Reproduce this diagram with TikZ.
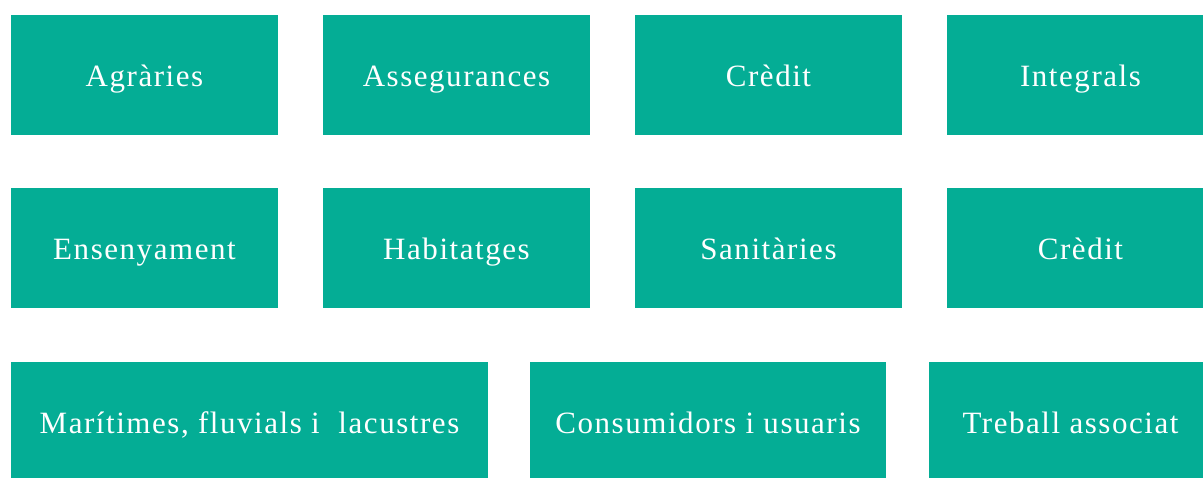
\documentclass[tikz,border=0pt]{standalone}
\usepackage{fontspec}
\setmainfont{Liberation Serif}[LetterSpace=5]
\usepackage{xcolor}
\definecolor{verdcoop}{RGB}{4,173,149}

\begin{document}
\begin{tikzpicture}[x=1pt,y=-1pt,
  every node/.style = {shape=rectangle, fill=verdcoop, text=white,
    inner sep=0pt, outer sep=0pt, anchor=north west,
    minimum height=120pt, text height=25pt, text depth=3pt,
    align=center, font=\fontsize{31}{34}\selectfont},
  caixa/.style = {minimum width=267pt},
  ]
  \useasboundingbox (0,0) rectangle (1203,477);
  \clip (0,0) rectangle (1203,477);
  % primera fila
  \node[caixa] (agraries) at (11,15) {Agràries};
  \node[caixa] (assegurances) at (323,15) {Assegurances};
  \node[caixa] (credit) at (635,15) {Crèdit};
  \node[caixa] (integrals) at (947,15) {Integrals};
  % segona fila
  \node[caixa] (ensenyament) at (11,188) {Ensenyament};
  \node[caixa] (habitatges) at (323,188) {Habitatges};
  \node[caixa] (sanitaries) at (635,188) {Sanitàries};
  \node[caixa] (creditb) at (947,188) {Crèdit};
  % tercera fila
  \node[minimum width=477pt] (maritimes) at (11,362) {Marítimes, fluvials i~ lacustres};
  \node[minimum width=356pt] (consumidors) at (530,362) {Consumidors i usuaris};
  \node[minimum width=283pt] (treball) at (929,362) {Treball associat};
\end{tikzpicture}
\end{document}
